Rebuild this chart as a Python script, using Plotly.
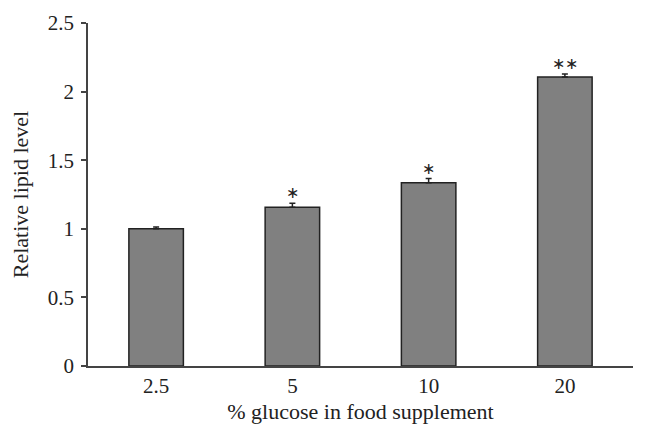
import plotly.graph_objects as go

categories = ["2.5", "5", "10", "20"]
values = [1.0, 1.157, 1.336, 2.106]
errors = [0.013, 0.03, 0.03, 0.022]
significance = ["", "*", "*", "**"]
y_ticks = [0, 0.5, 1, 1.5, 2, 2.5]
y_tick_labels = ["0", "0.5", "1", "1.5", "2", "2.5"]

FONT = "Liberation Serif, Times New Roman, serif"

fig = go.Figure()
fig.add_trace(go.Bar(
    x=categories, y=values,
    marker=dict(color="#808080", line=dict(color="#222222", width=1.5)),
    error_y=dict(type="data", array=errors, arrayminus=[0]*len(errors), symmetric=False,
                 color="#222222", thickness=1.5, width=3),
    showlegend=False,
))

for i, (v, e, s) in enumerate(zip(values, errors, significance)):
    if s:
        fig.add_annotation(x=i, xref="x", y=v + e, yref="y", text=s.replace("*", "∗"),
                           showarrow=False, yanchor="bottom", yshift=0,
                           font=dict(family=FONT, size=16, color="#222222"))

fig.update_layout(
    width=631, height=426,
    margin=dict(l=80, r=6, t=15, b=68),
    paper_bgcolor="white", plot_bgcolor="white",
    bargap=0.6,
    font=dict(family=FONT, size=21, color="#222222"),
    xaxis=dict(
        type="category", showline=True, linecolor="#444444", linewidth=1.5,
        ticks="", ticklen=0, showgrid=False, zeroline=False, automargin=False,
        ticklabelstandoff=0, tickfont=dict(size=21),
        title=dict(text="% glucose in food supplement", standoff=7,
                   font=dict(family=FONT, size=22)),
    ),
    yaxis=dict(
        range=[0, 2.5], tickvals=y_ticks, ticktext=y_tick_labels,
        showline=True, linecolor="#444444", linewidth=1.5, automargin=False,
        ticks="outside", ticklen=5, tickcolor="#444444", tickwidth=1.5,
        showgrid=False, zeroline=False, ticklabelstandoff=3, tickfont=dict(size=21),
        title=dict(text="Relative lipid level", standoff=13,
                   font=dict(family=FONT, size=22)),
    ),
)

fig.write_html("out.html")
